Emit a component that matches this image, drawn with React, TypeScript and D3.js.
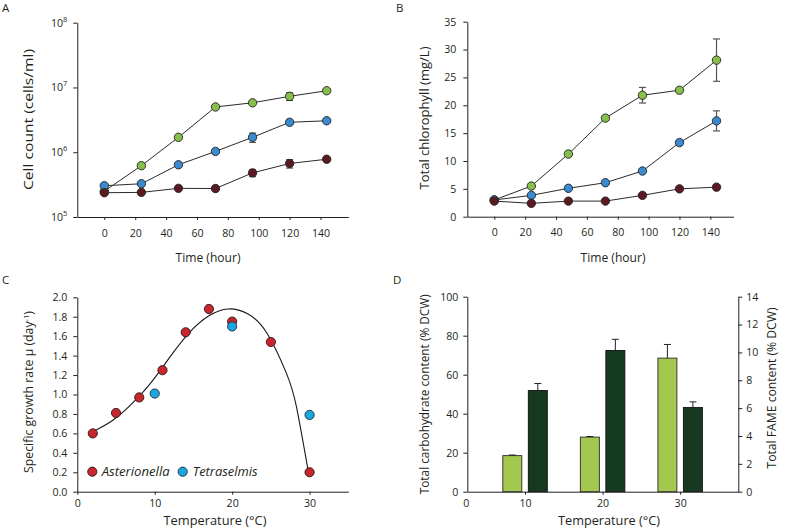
import React, { useEffect, useRef } from "react";
import * as d3 from "d3";

// ---------- Panel A: cell count ----------
const hours = [0, 24, 48, 72, 96, 120, 144];
const cellGreen = [2.5e5, 6.2e5, 1.7e6, 5.0e6, 5.8e6, 7.3e6, 8.9e6];
const cellGreenErr = [0.01e6, 0.03e6, 0.1e6, 0.3e6, 0.4e6, 1.0e6, 0.5e6];
const cellBlue = [3.04e5, 3.26e5, 6.4e5, 1.03e6, 1.7e6, 2.9e6, 3.06e6];
const cellBlueErr = [0.01e6, 0.02e6, 0.04e6, 0.05e6, 0.28e6, 0.2e6, 0.15e6];
const cellBrown = [2.37e5, 2.4e5, 2.77e5, 2.75e5, 4.8e5, 6.7e5, 7.8e5];
const cellBrownErr = [0.01e6, 0.01e6, 0.01e6, 0.01e6, 0.06e6, 0.1e6, 0.05e6];
const logTicks = [5, 6, 7, 8];
const hourTicks = [0, 20, 40, 60, 80, 100, 120, 140];

// ---------- Panel B: chlorophyll ----------
const chlGreen = [3.0, 5.5, 11.25, 17.7, 21.8, 22.7, 28.1];
const chlGreenErr = [0.2, 0.3, 0.4, 0.4, 1.4, 0.4, 3.8];
const chlBlue = [3.0, 3.83, 5.1, 6.1, 8.2, 13.3, 17.2];
const chlBlueErr = [0.1, 0.2, 0.2, 0.2, 0.3, 0.4, 1.8];
const chlBrown = [2.8, 2.4, 2.8, 2.8, 3.83, 5.0, 5.3];
const chlBrownErr = [0.1, 0.1, 0.1, 0.1, 0.2, 0.2, 0.3];
const chlTicks = [0, 5, 10, 15, 20, 25, 30, 35];

// ---------- Panel C: growth rate ----------
const asterTemps = [2, 5, 8, 11, 14, 17, 20, 25, 30];
const asterRates = [0.6, 0.81, 0.97, 1.25, 1.64, 1.88, 1.75, 1.54, 0.2];
const tetraTemps = [10, 20, 30];
const tetraRates = [1.01, 1.7, 0.79];
const fitTemps = [1.98, 4.5, 7.0, 9.5, 12.0, 14.5, 17.0, 19.5, 22.0, 24.5, 27.0, 28.3, 29.8];
const fitRates = [0.617, 0.73, 0.9, 1.12, 1.39, 1.64, 1.81, 1.88, 1.83, 1.63, 1.22, 0.875, 0.223];
const rateTicks = [0, 0.2, 0.4, 0.6, 0.8, 1.0, 1.2, 1.4, 1.6, 1.8, 2.0];
const tempTicksC = [0, 10, 20, 30];

// ---------- Panel D: carbohydrate & FAME ----------
const dTemps = [10, 20, 30];
const carbValues = [18.5, 28, 68.5];
const carbErr = [0.3, 0.3, 7];
const fameValues = [7.27, 10.14, 6.05];
const fameErr = [0.5, 0.8, 0.4];
const carbTicks = [0, 20, 40, 60, 80, 100];
const fameTicks = [0, 2, 4, 6, 8, 10, 12, 14];
const tempTicksD = [10, 20, 30];

const FONT = "'Open Sans', 'Noto Sans', sans-serif";
const AXIS = "#231f20";
const GREEN = "#86bf4b";
const BLUE = "#3a8ad0";
const BROWN = "#5a1a20";
const RED = "#c8262e";
const CYAN = "#1aa7e1";
const LIGHTBAR = "#a3c74f";
const DARKBAR = "#163a1f";
const TICKFS = 10.6;

function styleAxis(g: any) {
  g.attr("font-family", FONT).attr("font-size", TICKFS);
  g.select(".domain").attr("stroke", AXIS).attr("stroke-width", 1);
  g.selectAll(".tick line").attr("stroke", AXIS);
  g.selectAll(".tick text").attr("fill", AXIS);
}

export default function App() {
  const ref = useRef<SVGSVGElement>(null);

  useEffect(() => {
    const svg = d3.select(ref.current);
    svg.selectAll("*").remove();

    const panelLabel = (t: string, x: number, y: number) =>
      svg.append("text").attr("x", x).attr("y", y).attr("font-family", FONT).attr("font-size", 11.5).attr("fill", AXIS).text(t);

    const yTitle = (t: string, x: number, y: number, len: number) =>
      svg.append("text").attr("transform", `translate(${x},${y}) rotate(-90)`).attr("text-anchor", "middle")
        .attr("font-family", FONT).attr("font-size", 12.3).attr("fill", AXIS)
        .attr("textLength", len).attr("lengthAdjust", "spacingAndGlyphs").text(t);

    const xTitle = (t: string, x: number, y: number, len: number) =>
      svg.append("text").attr("x", x).attr("y", y).attr("text-anchor", "middle")
        .attr("font-family", FONT).attr("font-size", 12.3).attr("fill", AXIS)
        .attr("textLength", len).attr("lengthAdjust", "spacingAndGlyphs").text(t);

    // ---- generic time series drawer ----
    function drawSeries(g: any, x: any, y: any, vals: number[], errs: number[], color: string) {
      const line = d3.line<number>().x((_, i) => x(hours[i])).y((d) => y(d));
      g.append("path").attr("d", line(vals)).attr("fill", "none").attr("stroke", "#2b2b2b").attr("stroke-width", 1);
      vals.forEach((v, i) => {
        const cx = x(hours[i]);
        const y1 = y(v + errs[i]);
        const y2 = y(v - errs[i]);
        g.append("line").attr("x1", cx).attr("x2", cx).attr("y1", y1).attr("y2", y2).attr("stroke", "#555").attr("stroke-width", 1.2);
        [y1, y2].forEach((yy) =>
          g.append("line").attr("x1", cx - 3.5).attr("x2", cx + 3.5).attr("y1", yy).attr("y2", yy).attr("stroke", "#555").attr("stroke-width", 1.2)
        );
      });
      g.selectAll(null).data(vals).enter().append("circle")
        .attr("cx", (_: any, i: number) => x(hours[i])).attr("cy", (d: number) => y(d))
        .attr("r", 4.2).attr("fill", color).attr("stroke", "#222").attr("stroke-width", 0.9);
    }

    // ================= A =================
    {
      const x = d3.scaleLinear().domain([-17.5, 158]).range([77.3, 348.3]);
      const y = d3.scaleLog().domain([1e5, 1e8]).range([217, 22.7]);
      const g = svg.append("g");
      const ax = g.append("g").attr("transform", `translate(0,${y(1e5)})`)
        .call(d3.axisBottom(x).tickValues(hourTicks).tickSize(3).tickSizeOuter(0).tickPadding(9));
      styleAxis(ax);
      const ay = g.append("g").attr("transform", `translate(${x.range()[0]},0)`)
        .call(d3.axisLeft(y).tickValues(logTicks.map((e) => Math.pow(10, e))).tickSize(4).tickSizeOuter(0).tickPadding(6).tickFormat(() => ""));
      styleAxis(ay);
      ay.selectAll(".tick text").each(function (this: any, d: any) {
        const t = d3.select(this);
        t.text("10");
        t.append("tspan").attr("dy", -5).attr("font-size", 7.5).text(String(Math.round(Math.log10(d))));
      });
      drawSeries(g, x, y, cellGreen, cellGreenErr, GREEN);
      drawSeries(g, x, y, cellBlue, cellBlueErr, BLUE);
      drawSeries(g, x, y, cellBrown, cellBrownErr, BROWN);
      panelLabel("A", 2, 12);
      yTitle("Cell count (cells/ml)", 33, 119.5, 141);
      xTitle("Time (hour)", 208, 262, 65);
    }

    // ================= B =================
    {
      const x = d3.scaleLinear().domain([-17.5, 155]).range([467.3, 733.5]);
      const y = d3.scaleLinear().domain([0, 35]).range([216.7, 21.7]);
      const g = svg.append("g");
      const ax = g.append("g").attr("transform", `translate(0,${y(0)})`)
        .call(d3.axisBottom(x).tickValues(hourTicks).tickSize(3).tickSizeOuter(0).tickPadding(9));
      styleAxis(ax);
      const ay = g.append("g").attr("transform", `translate(${x.range()[0]},0)`)
        .call(d3.axisLeft(y).tickValues(chlTicks).tickSize(4).tickSizeOuter(0).tickPadding(7));
      styleAxis(ay);
      drawSeries(g, x, y, chlGreen, chlGreenErr, GREEN);
      drawSeries(g, x, y, chlBlue, chlBlueErr, BLUE);
      drawSeries(g, x, y, chlBrown, chlBrownErr, BROWN);
      panelLabel("B", 396, 12);
      yTitle("Total chlorophyll (mg/L)", 429, 118, 143);
      xTitle("Time (hour)", 613, 262, 65);
    }

    // ================= C =================
    {
      const x = d3.scaleLinear().domain([0, 35]).range([77.3, 348.3]);
      const y = d3.scaleLinear().domain([0, 2]).range([491.7, 297.3]);
      const g = svg.append("g");
      const ax = g.append("g").attr("transform", `translate(0,${y(0)})`)
        .call(d3.axisBottom(x).tickValues(tempTicksC).tickSize(3).tickSizeOuter(0).tickPadding(5));
      styleAxis(ax);
      const ay = g.append("g").attr("transform", `translate(${x.range()[0]},0)`)
        .call(d3.axisLeft(y).tickValues(rateTicks).tickSize(4).tickSizeOuter(0).tickPadding(6).tickFormat(d3.format(".1f")));
      styleAxis(ay);
      const line = d3.line<number>().x((_, i) => x(fitTemps[i])).y((d) => y(d)).curve(d3.curveNatural);
      g.append("path").attr("d", line(fitRates)).attr("fill", "none").attr("stroke", "#1a1a1a").attr("stroke-width", 1.1);
      g.selectAll(null).data(asterRates).enter().append("circle")
        .attr("cx", (_: any, i: number) => x(asterTemps[i])).attr("cy", (d: number) => y(d))
        .attr("r", 4.6).attr("fill", RED).attr("stroke", "#2a1a1a").attr("stroke-width", 0.9);
      g.selectAll(null).data(tetraRates).enter().append("circle")
        .attr("cx", (_: any, i: number) => x(tetraTemps[i])).attr("cy", (d: number) => y(d))
        .attr("r", 4.6).attr("fill", CYAN).attr("stroke", "#1a2a33").attr("stroke-width", 0.9);
      // legend
      const ly = 471.7;
      g.append("circle").attr("cx", 92.3).attr("cy", ly).attr("r", 4.6).attr("fill", RED).attr("stroke", "#2a1a1a").attr("stroke-width", 0.9);
      g.append("text").attr("x", 101.7).attr("y", ly + 4.5).attr("font-family", FONT).attr("font-style", "italic").attr("font-size", 12.5).attr("fill", AXIS)
        .attr("textLength", 68).attr("lengthAdjust", "spacingAndGlyphs").text("Asterionella");
      g.append("circle").attr("cx", 182.7).attr("cy", ly).attr("r", 4.6).attr("fill", CYAN).attr("stroke", "#1a2a33").attr("stroke-width", 0.9);
      g.append("text").attr("x", 192.7).attr("y", ly + 4.5).attr("font-family", FONT).attr("font-style", "italic").attr("font-size", 12.5).attr("fill", AXIS)
        .attr("textLength", 65).attr("lengthAdjust", "spacingAndGlyphs").text("Tetraselmis");
      panelLabel("C", 2, 284);
      const t = svg.append("text").attr("transform", `translate(33,392) rotate(-90)`).attr("text-anchor", "middle")
        .attr("font-family", FONT).attr("font-size", 12.3).attr("fill", AXIS);
      t.append("tspan").text("Specific growth rate \u03bc (day");
      t.append("tspan").attr("dy", -4).attr("font-size", 7.5).text("-1");
      t.append("tspan").attr("dy", 4).text(")");
      xTitle("Temperature (\u00b0C)", 215, 525, 103);
    }

    // ================= D =================
    {
      const x = d3.scaleLinear().domain([2.55, 37.5]).range([467.3, 738.3]);
      const yL = d3.scaleLinear().domain([0, 100]).range([491.7, 296.7]);
      const yR = d3.scaleLinear().domain([0, 14]).range([491.7, 296.7]);
      const g = svg.append("g");
      const ax = g.append("g").attr("transform", `translate(0,${yL(0)})`)
        .call(d3.axisBottom(x).tickValues(tempTicksD).tickSize(3).tickSizeOuter(0).tickPadding(5));
      styleAxis(ax);
      ax.append("text").attr("x", x.range()[0] - 1).attr("y", 8).attr("dy", "0.71em").attr("text-anchor", "middle").attr("fill", AXIS).text("0");
      const ayL = g.append("g").attr("transform", `translate(${x.range()[0]},0)`)
        .call(d3.axisLeft(yL).tickValues(carbTicks).tickSize(4).tickSizeOuter(0).tickPadding(5));
      styleAxis(ayL);
      const ayR = g.append("g").attr("transform", `translate(${x.range()[1]},0)`)
        .call(d3.axisRight(yR).tickValues(fameTicks).tickSize(4).tickSizeOuter(0).tickPadding(4));
      styleAxis(ayR);
      const bw = 19;
      const off = 12.75;
      dTemps.forEach((t, i) => {
        const cxL = x(t) - off;
        const cxD = x(t) + off;
        // carbohydrate bar (left axis)
        g.append("rect").attr("x", cxL - bw / 2).attr("y", yL(carbValues[i])).attr("width", bw)
          .attr("height", yL(0) - yL(carbValues[i])).attr("fill", LIGHTBAR).attr("stroke", "#2a2a2a").attr("stroke-width", 0.9);
        const eL = yL(carbValues[i] + carbErr[i]);
        g.append("line").attr("x1", cxL).attr("x2", cxL).attr("y1", eL).attr("y2", yL(carbValues[i])).attr("stroke", "#222").attr("stroke-width", 1);
        g.append("line").attr("x1", cxL - 3.5).attr("x2", cxL + 3.5).attr("y1", eL).attr("y2", eL).attr("stroke", "#222").attr("stroke-width", 1);
        // FAME bar (right axis)
        g.append("rect").attr("x", cxD - bw / 2).attr("y", yR(fameValues[i])).attr("width", bw)
          .attr("height", yR(0) - yR(fameValues[i])).attr("fill", DARKBAR).attr("stroke", "#111").attr("stroke-width", 0.9);
        const eD = yR(fameValues[i] + fameErr[i]);
        g.append("line").attr("x1", cxD).attr("x2", cxD).attr("y1", eD).attr("y2", yR(fameValues[i])).attr("stroke", "#222").attr("stroke-width", 1);
        g.append("line").attr("x1", cxD - 3.5).attr("x2", cxD + 3.5).attr("y1", eD).attr("y2", eD).attr("stroke", "#222").attr("stroke-width", 1);
      });
      panelLabel("D", 393, 284);
      yTitle("Total carbohydrate content (% DCW)", 429, 394.3, 200);
      svg.append("text").attr("transform", `translate(776,388) rotate(-90)`).attr("text-anchor", "middle")
        .attr("font-family", FONT).attr("font-size", 12.3).attr("fill", AXIS)
        .attr("textLength", 161).attr("lengthAdjust", "spacingAndGlyphs").text("Total FAME content (% DCW)");
      xTitle("Temperature (\u00b0C)", 609, 525, 102);
    }
  }, []);

  return (
    <svg
      ref={ref}
      width={787}
      height={532}
      style={{ position: "absolute", left: 0, top: 0, background: "#fff" }}
    />
  );
}
